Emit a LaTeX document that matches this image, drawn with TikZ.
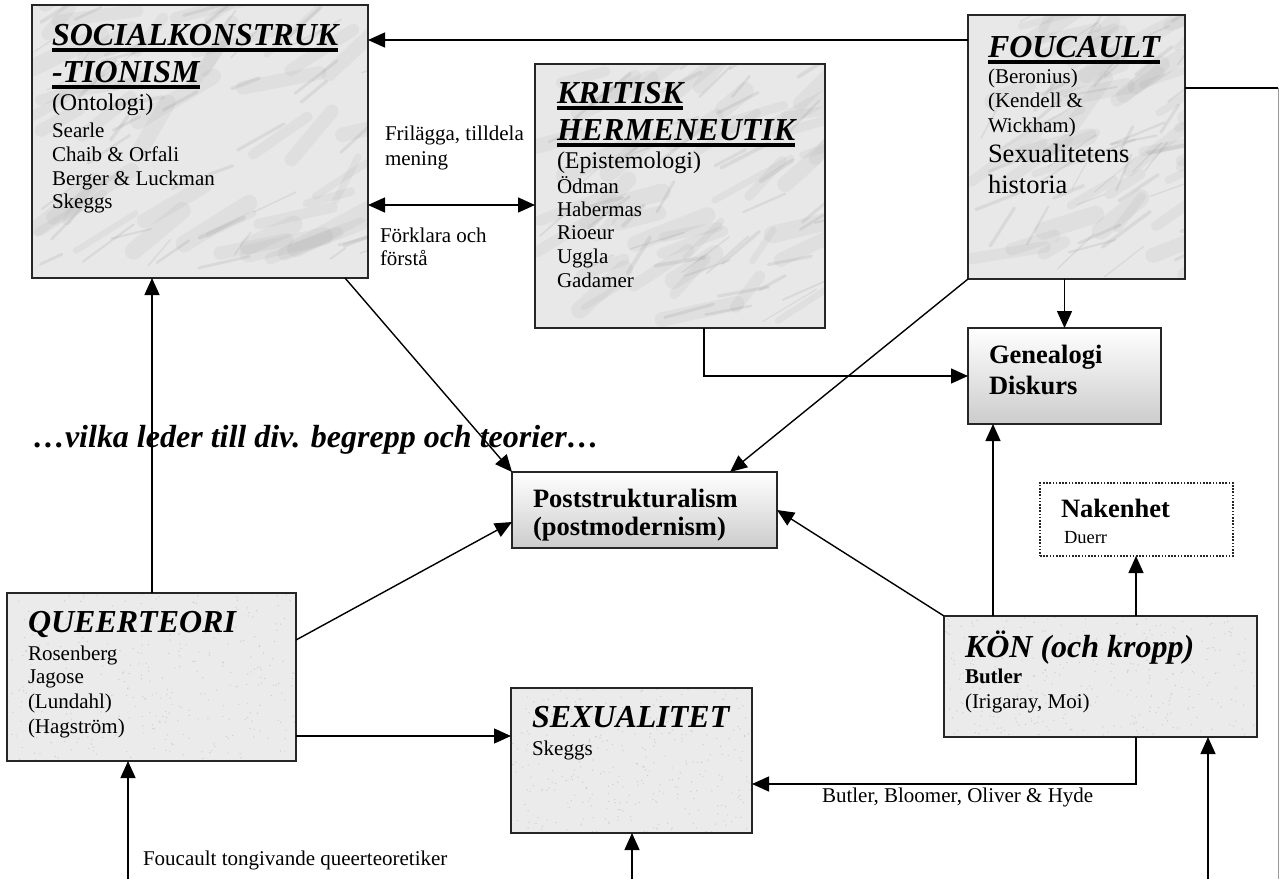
\documentclass[tikz,border=0pt]{standalone}
\usepackage{fontspec}
\setmainfont{Liberation Serif}
\usetikzlibrary{arrows.meta,calc}
\newcommand{\thul}[1]{\setbox0=\hbox{#1}\rlap{\vrule height -3pt depth 6.5pt width \wd0}\box0}
\newcommand{\marbletex}[3]{%
  \begin{scope}
  \clip (#1.north west) rectangle (#1.south east);
  \foreach \i in {1,...,45}{%
    \draw[black!50,opacity=.08,line width={6pt+12pt*rnd},line cap=round]
      ($(#1.north west)+({rnd*#2},{rnd*#3})$) -- ++({20+rnd*60},{-10-rnd*40});
  }
  \foreach \i in {1,...,45}{%
    \draw[black!50,opacity=.14,line width={1pt+3pt*rnd},line cap=round]
      ($(#1.north west)+({rnd*#2},{rnd*#3})$) -- ++({15+rnd*40},{-8-rnd*30});
  }
  \end{scope}}
\newcommand{\granitetex}[3]{%
  \begin{scope}
  \clip (#1.north west) rectangle (#1.south east);
  \foreach \i in {1,...,350}{%
    \fill[black!40,opacity=.35] ($(#1.north west)+({rnd*#2},{rnd*#3})$) circle[radius=0.7pt];
  }
  \end{scope}}
\begin{document}
\begin{tikzpicture}[x=1pt,y=-1pt,
  box/.style={draw=black!85,line width=1.4pt,anchor=north west,inner sep=0pt,outer sep=0pt},
  marble/.style={box,fill=black!9},
  granite/.style={box,fill=black!8},
  grad/.style={box,top color=white,bottom color=black!20},
  t/.style={anchor=base west,inner sep=0pt,outer sep=0pt},
  ttl/.style={t,font=\fontsize{32}{36}\selectfont\bfseries\itshape},
  bod/.style={t,font=\fontsize{21}{24}\selectfont},
  mid/.style={t,font=\fontsize{24}{28}\selectfont},
  big/.style={t,font=\fontsize{26.5}{30}\selectfont},
  bigb/.style={t,font=\fontsize{26.5}{30}\selectfont\bfseries},
  arr/.style={line width=1.4pt,-{Triangle[length=17pt,width=15pt]}},
  darr/.style={line width=1.4pt,{Triangle[length=17pt,width=15pt]}-{Triangle[length=17pt,width=15pt]}},
  ln/.style={line width=1.4pt},
]
\useasboundingbox (0,0) rectangle (1280,879);
\pgfmathsetseed{4242}
% boxes
\node[marble,minimum width=336pt,minimum height=273pt] (soc) at (32,5) {};
\node[marble,minimum width=290pt,minimum height=264pt] (krit) at (535,64) {};
\node[marble,minimum width=217pt,minimum height=264pt] (fouc) at (968,15) {};
\node[grad,minimum width=193pt,minimum height=96pt] (gen) at (968,328) {};
\node[grad,minimum width=265pt,minimum height=76pt] (post) at (512,472) {};
\node[box,fill=white,dash pattern=on 1.6pt off 1.6pt,minimum width=193pt,minimum height=73pt] (nak) at (1040,483) {};
\node[granite,minimum width=289pt,minimum height=168pt] (queer) at (7,593) {};
\node[granite,minimum width=241pt,minimum height=145pt] (sex) at (511,688) {};
\node[granite,minimum width=313pt,minimum height=121pt] (kon) at (944,616) {};
\marbletex{soc}{336}{273}
\marbletex{krit}{290}{264}
\marbletex{fouc}{217}{264}
\granitetex{queer}{289}{168}
\granitetex{sex}{241}{145}
\granitetex{kon}{313}{121}
\foreach \b in {soc,krit,fouc,queer,sex,kon}{\draw[black!85,line width=1.4pt] (\b.north west) rectangle (\b.south east);}
% free ends
\coordinate (b1) at (128,879);
\coordinate (b2) at (632,879);
\coordinate (b3) at (1208,879);
\coordinate (r1) at (1278,879);
% connectors
\coordinate (f1) at ([yshift=-25pt]fouc.north west);
\draw[arr] (f1) -- (f1 -| soc.east);
\coordinate (f2) at ([yshift=-73pt]fouc.north east);
\draw[ln] (f2) -- (f2 -| r1);
\draw[line width=1pt,black!40] (f2 -| r1) -- (r1);
\coordinate (s1) at ([yshift=-200pt]soc.north east);
\draw[darr] (s1) -- (s1 -| krit.west);
\draw[arr] (gen.north |- fouc.south) -- (gen.north);
\coordinate (k1) at ([xshift=169pt]krit.south west);
\draw[arr] (k1) |- (gen.west);
\draw[arr] (fouc.south west) -- ([xshift=218pt]post.north west);
\draw[arr] ([xshift=313pt]soc.south west) -- (post.north west);
\coordinate (q1) at ([xshift=145pt]queer.north west);
\draw[arr] (q1) -- (q1 |- soc.south);
\draw[arr] ([yshift=-47pt]queer.north east) -- ([yshift=-50pt]post.north west);
\coordinate (q2) at ([yshift=-143pt]queer.north east);
\draw[arr] (q2) -- (q2 -| sex.west);
\draw[arr] (b1) -- (b1 |- queer.south);
\draw[arr] (b2) -- (b2 |- sex.south);
\draw[arr] (b3) -- (b3 |- kon.south);
\coordinate (k2) at ([xshift=192pt]kon.south west);
\coordinate (s2) at ([yshift=-96pt]sex.north east);
\draw[arr] (k2) |- (s2);
\coordinate (k3) at ([xshift=49pt]kon.north west);
\draw[arr] (k3) -- (k3 |- gen.south);
\coordinate (k4) at ([xshift=192pt]kon.north west);
\draw[arr] (k4) -- (k4 |- nak.south);
\draw[arr] (kon.north west) -- ([yshift=-38pt]post.north east);
% texts
\node[ttl] (soc1) at (52,45) {\thul{SOCIALKONSTRUK}};
\node[ttl] (soc2) at (52,82) {\thul{-TIONISM}};
\node[mid] (soc3) at (52,110) {(Ontologi)};
\node[bod] (soc4) at (52,137) {Searle};
\node[bod] (soc5) at (52,161) {Chaib \& Orfali};
\node[bod] (soc6) at (52,185) {Berger \& Luckman};
\node[bod] (soc7) at (52,208) {Skeggs};
\node[ttl] (kr1) at (557,103) {\thul{KRITISK}};
\node[ttl] (kr2) at (557,140) {\thul{HERMENEUTIK}};
\node[mid] (kr3) at (557,168) {(Epistemologi)};
\node[bod] (kr4) at (557,193) {Ödman};
\node[bod] (kr5) at (557,216) {Habermas};
\node[bod] (kr6) at (557,239) {Rioeur};
\node[bod] (kr7) at (557,263) {Uggla};
\node[bod] (kr8) at (557,287) {Gadamer};
\node[ttl] (fo1) at (988,57) {\thul{FOUCAULT}};
\node[bod] (fo2) at (988,83) {(Beronius)};
\node[bod] (fo3) at (988,107) {(Kendell \&};
\node[bod] (fo4) at (988,132) {Wickham)};
\node[big] (fo5) at (988,162) {Sexualitetens};
\node[big] (fo6) at (988,193) {historia};
\node[bigb] (ge1) at (989,363) {Genealogi};
\node[bigb] (ge2) at (989,394) {Diskurs};
\node[bigb] (po1) at (533,507) {Poststrukturalism};
\node[bigb] (po2) at (533,535) {(postmodernism)};
\node[bigb] (na1) at (1061,517) {Nakenhet};
\node[t,font=\fontsize{18.5}{22}\selectfont] (na2) at (1064,543) {Duerr};
\node[ttl] (qu1) at (28,632) {QUEERTEORI};
\node[bod] (qu2) at (28,660) {Rosenberg};
\node[bod] (qu3) at (28,683) {Jagose};
\node[bod] (qu4) at (28,708) {(Lundahl)};
\node[bod] (qu5) at (28,733) {(Hagström)};
\node[ttl] (se1) at (532,727) {SEXUALITET};
\node[bod] (se2) at (532,755) {Skeggs};
\node[ttl] (ko1) at (965,657) {KÖN (och kropp)};
\node[bod,font=\fontsize{21}{24}\selectfont\bfseries] (ko2) at (965,683) {Butler};
\node[bod] (ko3) at (965,708) {(Irigaray, Moi)};
\node[bod] (l1) at (385,140) {Frilägga, tilldela};
\node[bod] (l2) at (385,165) {mening};
\node[bod] (l3) at (380,242) {Förklara och};
\node[bod] (l4) at (380,265) {förstå};
\node[bod] (l5) at (143,865) {Foucault tongivande queerteoretiker};
\node[bod] (l6) at (822,802) {Butler, Bloomer, Oliver \& Hyde};
\node[t,font=\fontsize{32}{36}\selectfont\bfseries\itshape] (bigt) at (33,447) {…vilka leder till div. begrepp och teorier…};
\end{tikzpicture}
\end{document}
